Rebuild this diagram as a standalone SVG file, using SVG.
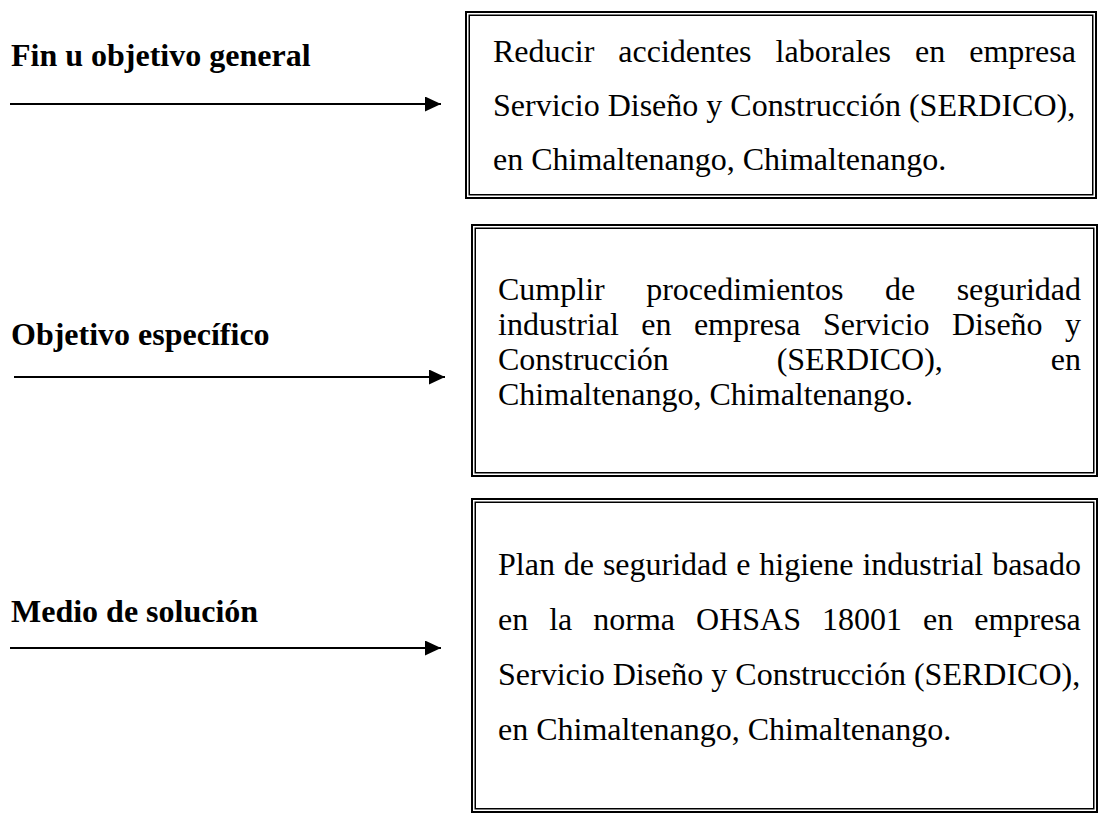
<svg xmlns="http://www.w3.org/2000/svg" width="1102" height="815" viewBox="0 0 1102 815">
  <defs>
    <marker id="arrow" markerUnits="userSpaceOnUse" markerWidth="16" markerHeight="15" refX="16" refY="7.5" orient="auto">
      <path d="M0,0 L16,7.5 L0,15 Z" fill="#000"/>
    </marker>
  </defs>
  <style>
    .label { font-family: "Liberation Serif", "Times New Roman", serif; font-weight: bold; font-size: 32px; fill: #000; }
    .body { font-family: "Liberation Serif", "Times New Roman", serif; font-size: 32px; fill: #000; }
    .outer { fill: #fff; stroke: #000; stroke-width: 2; }
    .inner { fill: none; stroke: #000; stroke-width: 1.5; }
    .conn { stroke: #000; stroke-width: 2.2; fill: none; marker-end: url(#arrow); }
  </style>
  <rect width="1102" height="815" fill="#fff"/>

  <g id="label-fin">
    <text class="label" x="11" y="66">Fin u objetivo general</text>
  </g>
  <g id="label-objetivo">
    <text class="label" x="11" y="345">Objetivo específico</text>
  </g>
  <g id="label-medio">
    <text class="label" x="11" y="622">Medio de solución</text>
  </g>

  <g id="connectors">
    <line class="conn" x1="10" y1="104" x2="441" y2="104"/>
    <line class="conn" x1="14" y1="377" x2="445" y2="377"/>
    <line class="conn" x1="10" y1="648" x2="441" y2="648"/>
  </g>

  <g id="box-fin">
    <rect class="outer" x="466" y="12" width="630" height="186"/>
    <rect class="inner" x="469.25" y="15.25" width="623.5" height="179.5"/>
    <text class="body" x="493" y="62" word-spacing="16">Reducir accidentes laborales en empresa</text>
    <text class="body" x="493" y="116">Servicio Diseño y Construcción (SERDICO),</text>
    <text class="body" x="493" y="170">en Chimaltenango, Chimaltenango.</text>
  </g>

  <g id="box-objetivo">
    <rect class="outer" x="472" y="225" width="625" height="251"/>
    <rect class="inner" x="475.25" y="228.25" width="618.5" height="244.5"/>
    <text class="body" x="498" y="300" word-spacing="33.5">Cumplir procedimientos de seguridad</text>
    <text class="body" x="498" y="335" word-spacing="14.4">industrial en empresa Servicio Diseño y</text>
    <text class="body" x="498" y="370" word-spacing="100">Construcción (SERDICO), en</text>
    <text class="body" x="498" y="405">Chimaltenango, Chimaltenango.</text>
  </g>

  <g id="box-medio">
    <rect class="outer" x="472" y="499" width="625" height="313"/>
    <rect class="inner" x="475.25" y="502.25" width="618.5" height="306.5"/>
    <text class="body" x="498" y="575" word-spacing="0.9">Plan de seguridad e higiene industrial basado</text>
    <text class="body" x="498" y="630" word-spacing="13">en la norma OHSAS 18001 en empresa</text>
    <text class="body" x="498" y="685">Servicio Diseño y Construcción (SERDICO),</text>
    <text class="body" x="498" y="740">en Chimaltenango, Chimaltenango.</text>
  </g>
</svg>
